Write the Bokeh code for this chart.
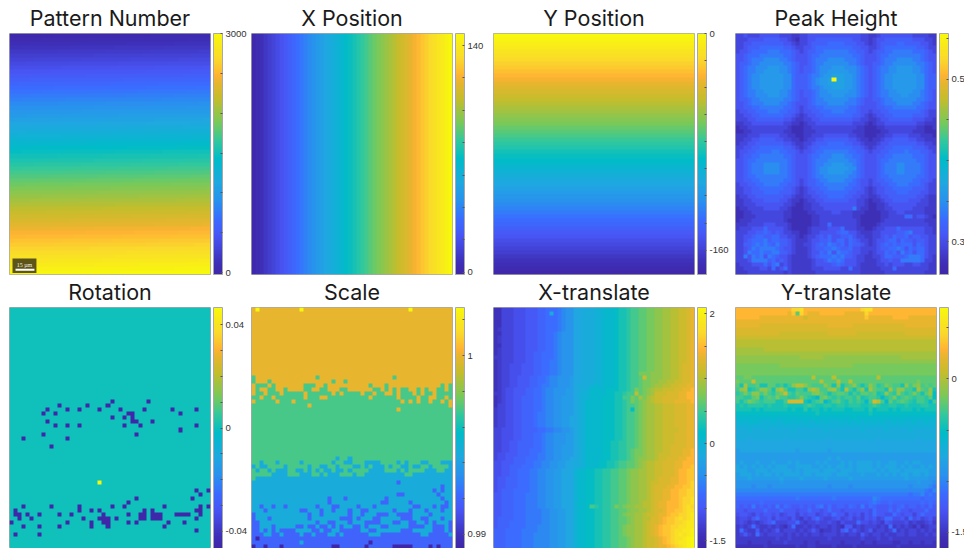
import numpy as np
from bokeh.embed import file_html
from bokeh.resources import INLINE
from bokeh.layouts import column, row
from bokeh.models import ColorBar, FixedTicker, LinearColorMapper, Range1d
from bokeh.plotting import figure
from bokeh.core.properties import value

titles = ["Pattern Number", "X Position", "Y Position", "Peak Height",
          "Rotation", "Scale", "X-translate", "Y-translate"]

pattern_row_start = [0, 50, 100, 150, 200, 250, 300, 350, 400, 450, 500, 550, 600, 650, 700, 750, 800, 850, 900, 950,
                     1000, 1050, 1100, 1150, 1200, 1250, 1300, 1350, 1400, 1450, 1500, 1550, 1600, 1650, 1700, 1750,
                     1800, 1850, 1900, 1950, 2000, 2050, 2100, 2150, 2200, 2250, 2300, 2350, 2400, 2450, 2500, 2550,
                     2600, 2650, 2700, 2750, 2800, 2850, 2900, 2950]
pattern_col_step = [0, 1, 2, 3, 4, 5, 6, 7, 8, 9, 10, 11, 12, 13, 14, 15, 16, 17, 18, 19, 20, 21, 22, 23, 24, 25, 26,
                    27, 28, 29, 30, 31, 32, 33, 34, 35, 36, 37, 38, 39, 40, 41, 42, 43, 44, 45, 46, 47, 48, 49]
x_position = [0, 3, 6, 9, 12, 15, 18, 21, 24, 27, 30, 33, 36, 39, 42, 45, 48, 51, 54, 57, 60, 63, 66, 69, 72, 75, 78,
              81, 84, 87, 90, 93, 96, 99, 102, 105, 108, 111, 114, 117, 120, 123, 126, 129, 132, 135, 138, 141, 144, 147]
y_position = [0, -3, -6, -9, -12, -15, -18, -21, -24, -27, -30, -33, -36, -39, -42, -45, -48, -51, -54, -57, -60, -63,
              -66, -69, -72, -75, -78, -81, -84, -87, -90, -93, -96, -99, -102, -105, -108, -111, -114, -117, -120,
              -123, -126, -129, -132, -135, -138, -141, -144, -147, -150, -153, -156, -159, -162, -165, -168, -171,
              -174, -177]

# digits: colour-bar fraction 0.05 + d*0.035, Y = top of the bar
peak_rows = [
"22322233333222112 2333333333333322 11233333333222211",
"22233334444332102 2334444444443322 12334444444333221",
"22334444444433212 2344445555444332 12344445544443321",
"22344455555544322 3345555555554433 22345555555544322",
"23345555666555432 3445566666655443 23445566666555432",
"33455566666655433 3455666666665543 33455666666665433",
"33456667777665433 3456667777666543 33456667777665433",
"34456677777766543 3456677777766543 34456677777766543",
"34566777888776543 4456777888777654 34566778888776543",
"34566778888776543 4456778888877654 34566778888776543",
"34567788888877544 4566788999887654 34567788888877544",
"34567788888877544 4567889Y99887654 34567788888877544",
"34567788888877544 4567889999887654 34567788888877544",
"34567788888877544 4566788999887654 34567788888877544",
"34566778888776543 4456778888877654 34566778888776543",
"34566777888776543 4456777888777654 34566777887776543",
"34456677777766543 3456677777766543 34456677777766543",
"33456667777665433 3456667777666543 33456667777665433",
"33445566666655432 3445566666655433 33445566666655433",
"23344555666554432 3344555666555433 23344555555554322",
"22334455555544321 2334455555554432 12334455555444322",
"22233444444433211 2233444444443322 11233444444333221",
"11223333333322110 1223333333332221 01223333333322111",
"01122222222221000 1122222222222110 00112222222211001",
"00112222222211000 1112222222221110 00011222222111000",
"11122233333221100 1122233333322110 00112233332221110",
"11223344443322110 1223344444433211 01123344443322111",
"12233444444433211 2234445555443321 11233444444433221",
"22334455555544321 2344555555554432 12334455555444322",
"23344555566554432 3345566666655443 23344555565554432",
"23445566666655433 3455666777665543 33445566666555433",
"33455666666665433 3456667777766543 33455666666655433",
"33456667777665433 3456677888776543 33456667766665433",
"33456667777665433 3456778888877543 33456667766665433",
"33456667777665433 3456778888776543 33456667766665433",
"33455666666665433 3456677777766543 33455666666655433",
"33445566666655432 3445667777665433 23445566666554432",
"23344556666554432 3445566666655433 23344556665554322",
"22334455555544321 2344556666554432 12334455555444322",
"22334445555444321 2334455555544332 12334445554443322",
"12233444444433211 2233445555443322 11233444444433211",
"11223334444332110 1223344444433221 01123344443332211",
"11222333333322100 1122333333333221 00112333333322211",
"01122223333221000 1122233333336211 00112233333222111",
"00112222222211000 0112222332221110 00011223322222111",
"00111222222211000 0011222222221100 00011222255233210",
"01112222222210000 0011222222222100 00012222222222111",
"11122223332221000 0011225222222100 00122222222222211",
"12223335333321000 0122223335222110 01223335333333221",
"22233445434322110 0122333345533211 12233334456333221",
"22334554455332210 1223435334453221 12234354453443322",
"22345556455443211 1233445355354322 12334553544344322",
"22445656546443211 2234546545354432 12345454555354322",
"22346566665433211 1234455654453322 22344556535455322",
"22365565566443211 1233546365543322 12335453645355322",
"22636563654332111 1234555656443221 12235544456665321",
"22236666453432111 1123346565333221 11233433666665221",
"12223335356232111 1123333454333211 11223233322332211",
"11222233252352111 1122233332252211 11122252222222211",
"11122222222212111 1112222222222211 11112222222222111",
]

rotation_low_cells = {
    23: [25, 34], 24: [12, 19, 24], 25: [9, 14, 17, 22, 27, 33, 40, 46], 26: [8, 11, 29, 30, 42],
    27: [25, 28, 30], 28: [9, 30, 31, 35], 29: [11, 14, 17, 28, 32, 46], 30: [42], 31: [8, 31], 32: [3, 14],
    34: [10], 45: [46, 49], 46: [47], 47: [31, 45], 48: [29], 49: [3, 10, 17, 25, 28, 38, 47, 49],
    50: [1, 17, 20, 22, 33, 35, 46, 47], 51: [1, 2, 4, 7, 12, 15, 23, 29, 32, 33, 35, 36, 37, 41, 42, 43, 44, 47],
    52: [2, 5, 18, 22, 23, 24, 26, 32, 33, 35, 36, 37, 46], 53: [0, 14, 20, 23, 24, 29, 31, 39, 43],
    54: [3, 7, 12, 20, 24, 38], 55: [46], 56: [1, 7],
}
rotation_high_cells = {43: [22]}

# digits: 0 = lowest level ... 5 = highest level
scale_levels = [0.9892, 0.9919, 0.9946, 0.9970, 1.0, 1.0027]
scale_rows = [
"45444444444454444444444444444444444444454444444444",
*["44444444444444444444444444444444444444444444444444"] * 16,
"34444444444444443444444444444444444344444444444444",
"34443444444444444444344344444444444444444444444444",
"43334344444443334434444444444344434444444444444343",
"43443344344443344334443344444433434343344343443343",
"43343334333334333333434333343343344343334343343333",
"33433433333334333443333333333433333343333433443343",
"43333343334333333333333333333333333334343433433434",
"33333333333333433333333333333333333333333333333334",
"33333333333333333333333333333333333343333333333333",
*["33333333333333333333333333333333333333333333333333"] * 11,
"33333333333333333333323323333333333333333333333333",
"33233323333323333333233223332222333323233322333222",
"23223333233333233223323332232322232332232233233332",
"32332322233223232322322323333222233323233332223322",
"33333222233322233232223332332222222222332222222222",
"32222222222222222222222222222222222222222222222222",
"22222222222222222222222222222222222212222222222222",
"22222222222222222222222222222222222222222222222122",
"22222222222222222222222222222222222222222222212122",
"22222222222222222222222222222222222211222222221222",
"22222222222222222221222122222222212222222222222122",
"22222222222222222221222222222222112222212222222212",
"22122122122222221222112222122212222222221122212112",
"22212222222211222122122212211222222122212221222122",
"12222222222222122122222212212221112211112222122222",
"12221222222222122222221112122211222221112211222122",
"11222222222222221221122212221111222112211221212221",
"11222122222112112112121221121222112222211112211121",
"11212121111222211211221111122112222221112222211121",
"11122112111121121112212111111222111111111122111112",
"10111111111111111111111111111111111111111111111111",
"11111111111121111111111111111011111111111111111111",
"01101110111111111111001111110111111000001111010111",
]

# characters 0-9a-z: colour-bar fraction = index / 35
xtrans_rows = [
"2244455566 6778889abb ddeeeffggg hiijkkllmm nnooppqqrs",
"2244455566 6778e89abb ddeeeffggg hiijkkllmm nnooppqqrs",
"2244455566 6778889abb ddeeeffggg hiijkkllmm nnooppqqrs",
"2244455566 6778889abb ddeeeffggg hiijkkllmm nnooppqqrs",
"2244455566 6778889abb ddeeeffggg hiijkkllmm nnooppqqrs",
"2344455566 6778889abb ddeeeffggg hiijkkllmm nnooppqqrs",
"2244455566 677889abbb ddeeeffggg hiijkkllmm nnooppqqrs",
"2344455566 677889abbb ddeeeffggg hiijkkllmm nnooppqqrs",
"2344455566 677889abbb ddeeeffggg hiijkkllmm nnooppqqrs",
"2244455566 677889abbb ddeeeffggg hiijkkllmm nnooppqqrs",
"2344455566 677889abbb ddeeeffggg hiijkkllmm nnooppqqrs",
"2344455566 778889abbb ddeeeffggg hiijkkllmm nnooppqqrs",
"3344455566 778889abbb ddeeeffggg hiijkkllmm nnooppqqrs",
"2344455566 778899abbb ddeeeffggg hiijkkllmm nnooppqqrs",
"2344555666 778899abbb ddeeeffggg hiijkkllmm nnooppqrrs",
"2344555666 778899abbb ddeeeffggg hiijkkllmm nnooppqrrs",
"2344555666 778899abbb ddeeeffggg hiijkkmmmn nnooppqrrs",
"2344556667 7889aabbbc ddeeeffggg hiijkklqmn nnooppqrrs",
"2344556667 7889aabbbc ddeeeffggg hiijkklmmn nooppqqrrs",
"2344556667 7899aabbbc deeefgfggg hiijkklmmn ooppqqrrss",
"2345566677 889aabbbcc deefgggghh hiijkmlmno ppqqqrrsst",
"3345566677 889aabbbcc deffgggghh iijkkplmno qqqrrrsstt",
"2345566777 889aabbccc deffggghhh iikkmlomop qqrrrrsstt",
"2345566777 889aabbccc defgggghhh iijkmlmnop qqrrrsssst",
"2445566777 889aabbccc defgggghhh iijkklmnoo ppqqqrrrss",
"3445566777 889aabbccc defgggghhh iijkhlmnoo ppqqqrrrss",
"3445566777 899aabbccc defgggghhh iijkklmnoo ppqqqrrrss",
"3445566777 899aabbccd defgggghhh iijkklmnoo ppqqqrrrss",
"3445566777 899aabbccd defgggghhh iijkklmnoo ppqqqrrrss",
"3445566777 899aabbccd defgggghhh iijkklmnoo ppqqqrrrss",
"4455566777 78899aabbc defgggghhh iijkklmnoo ppqqqqrrss",
"4455566777 889aabbbcc defgggghhh iijkklmnoo ppqqqrrrss",
"4455566777 889aabbbcc defgggghhh iijkklmnoo ppqqqrrrss",
"4455667777 889aabbbcc defgggghhi ijjkklmnoo ppqqqrrrss",
"4455667777 889aabbccc defgggghhi ijjkklmnoo ppqqrrrrss",
"4455667778 889aabbccc defgggghhi ijjklmmnoo ppqqrrrsst",
"4556667778 899aabbccc defgggghhi ijjklmmnoo pqqqrrrsst",
"4556677788 899aabbccd defgggghhi ijjklmnnoo pqqrrrsstt",
"5566677788 99aabbccdd eefggghhii jkkllmnopp qqrrrssttt",
"5566777888 99aabbccdd eefggghhii jkkllmnopp qqrrrssttu",
"5566778889 9aabbccddd fgghhiijjk kllmnnoopp qqrrrsttuu",
"5566778889 9aabbccddd fgghhiijjk kllmnnoopp qqrrrsttuu",
"5667778889 9aabbccddd fgghhiijjk kllmnnoopp qrrrssttuu",
"5667778889 9aabbccddd fgghhiijjk kllmnnoopq qrrrssttuv",
"5667778889 9aabbccddd fgghhiijjk kllmnnoopq rrrssttuuv",
"5677788889 9aabbccddd fgghhiijjk kllmnnoopq rrssttuuvv",
"6677788899 9aabbccddd fgghhiijjk kllmnnoopq rrssttuuvv",
"6677788899 9aabbccddd fgghhiijjk kllmnnoopq rrssttuvvw",
"6677788899 9aabbccddd fgghhiijjk kllmnnoppq rsstttuvvw",
"6677788899 9aabbccddd fgghkjijjk mlmnnooppq rsstttuvwv",
"6677788899 99aabbccdd fgghhiijjk kllmnnoopq rrsttuuvww",
"6677788899 99aabbccdd fgghhiijjk klmnnoopqq rsstuuvvwx",
"6777788899 99aabbccdd fgghhiijjk kllmnooppr rstuuvwvwx",
"6777888899 99aabbccdd fgghhiijjk kllmnoopqr rstuuvvwxx",
"6777888899 9aaabbccdd fgghhiijjk klmnnoopqr stuuvvwwxx",
"7778888999 9aaabbccdd fgghhiijjk klmnnoopqr stuuvwwxxy",
"7778888999 aaaabbccdd fgghhiijjk klmnnoopqr stuuvwxwxy",
"7778888999 aaaabbccdd fgghhiijjk kllmnoopqq rstuvwwxyz",
"7778888999 aaaabbccdd fgghhiijjk kllmnoopqq rstuvwxxyz",
"7778888999 aaaabbccdd fgghhiijjk kllmnoopqq rsstuvwxyz",
]

ytrans_rows = [
"ttttttttttttttvvwttttttttttttttvwwtttttttttttttttt",
"tttttttttttttsulvtsssttttttsssssvttttttttttttttttt",
"ttttttsssssssssssqssssssssssssssussssssttttsssssss",
"ssssssssssssssssssssssssssssssssssssssssssssssssss",
"ssssssrrrrrrrrrrrrrrrrrssssssrrrrrrrrrrrrrssssssss",
"rrrrrrrrrrrrrrrrrrrrrrrrrrrrrrrrrrrrrrrrrrrrrrrrrr",
"rrrrrrrrrrrqqqqqqqqqqqqrrrrrrrqqqqqqqqqqqqrrrrrrrr",
"qqqqqqqqqqqqqqqqqqqqqqqqqqqqqqqqqqqqqqqqqqqqqqqqqq",
"pppppppppppppppppppppppppppppppppppppppppppppppppp",
"pppppppppppppppppppppppppppppppppppppppppppppppppp",
"oooooooppppppppppppppppppppppppppppppppppppppppppp",
"oooooooooooooooooooooooooooooooooooooooooooooooooo",
"nnnnnnnnnnnnnnnnoooooonnnnnnnnnnnnnnnnnnnooooooooo",
"nnnnnnnnnnnnnnnnnnnnnnnnnnnnnnnnnnnnnnnnnnnnnnnnnn",
"mmmmmmmmmmmnnnnnnnnnnnnnnnnnnmmmmmmmmmmmmmmmmmmmmm",
"mmmmmmmmmmmmmmmmmmmmmmmmmmmmmmmmmmmmmmmmmmmmmmmmmm",
"mmmmmmmmmmmmmmmmmmmmmmmmmmmmmmmmmmmmmmmmmmmmmmmmmm",
"llmmlllllllllllllllpllllpllllllllllplllllllllllllll",
"mlllqllllllllllllllllplllpllpllllllllllllllllmllll",
"liokkliilljkiknppnlkkknliniklnkiknljkmlkkinkmnklkl",
"knoijknnlinpliikkinpnkknokipkilniolkkioknnkkiolkni",
"jkmknnkmkjlmqkjlkkkmnlkikllkikjllklijnkjnkjkmkilnh",
"kkjjlmiklkmkkjjkmkjiglmkjkjkkjlijkkjgjkmjklkjkkjlh",
"kikmlkjkkkiikrrrrigjklgikljikjkjgkrpkgljklkjikkjgk",
"ijijjjjijiiijiiiijkjiijjijjijjjiijkjiijjiijiiijjii",
"iiiihihiiiiiihihhjhiihihiiihhiiihjhiiihihiiihihiii",
"hhhhhhhhhhhhhhhhhhhhihhhhhhhhhhhhihhhhhhhhhhhhhhhh",
"ggggggggggggggggggghggggggggghgggggggggggggggggggg",
"fgfgggfffgffggfgfgffgfgfffgfgfgfgfgfgffgfgffgffgff",
"ffffffffffffffffffffffffffffffffffffffffffffffffff",
"eeefeeefeeeeeefeeeeeeefeeeeeeeefeeeeefeeeeefeeeeee",
"eeeeeeeeeeeeeeeeeeeeeeeeeeeeeeeeeeeeeeeeeeeeeeeeee",
"eeedeeeeeeeedeeeeeeeeeedeeeeeeeeeeedeeeeeeeeedeeee",
"dddddddddddddddddddddddddddddddddddddddddddddddddd",
"dddddddddddddddddddddddddddddddddddddddddddddddddd",
"cddddddddddddddcdddddddcdddddddddddddddddddddddddd",
"cccccccccccccccccccccccccccccccccccccccccccccccccc",
"cccccccccccccccccccccccdcdcccccccccccccccccccccccc",
"cdcccdcccdcccdcdccccdcdcccdcdcddddcdccddccdcddcccc",
"dcdcdcdcdcdddccddddccdcdcddcdcddddcdcdddcdcdccdcdc",
"dddccdddcdddddcdcddddcdddcdddcdddddcdcdddcddddddcc",
"cdddcdcddcdcddddcddcddddcdddcccdcccdcdcdcddcddcdcc",
"cccdcccccccdccccdcccccdcccccdcccccccccccccdcccccbb",
"bbbbbbbbbbbcbbbbbbbbbbbbbbbbbbbbbbbbbbbbbbbbbcbbba",
"bbbbabbbabbbbbbbbbbbbbbabbbbabbbbbbbbbbbbbbabbbba9",
"aaaaaaaaaaaaaaaaaaaaaaaaaaaaaaaaaaaaaaaaaaaaaaa98a",
"9999999999999999999999999999999999999999999899a898",
"8888888888888889888888889888888888a98888888888788878",
"7777778777777777777777777777777778987787777777878777",
"7676967676968766767689686776876968766676786776768677",
"6656666866686665668665686656666665866686866566686656",
"5665465665645664656645658664656465866558656646866665",
"4554685564655464354685445645645465645885564856456445",
"4543434568444558434454454354448554543654445343345344",
"3434843343432483343434434326634344434383434324234443",
"3843363434634443434642334368464346344348343443434343",
"3464384344443434343443444343443643443433443443343433",
"3333333333433433333333343333333433343343333333333333",
"3332333323334333323323333323333233233332233233233233",
"2222222322222223223322223222232222222222322222222232",
]
assert len(peak_rows) == len(scale_rows) == len(xtrans_rows) == len(ytrans_rows) == 60

cb_low = [-25, -1.5, -178, 0.26, -0.0466, 0.9892, -1.62, -1.66]
cb_high = [3000, 147.5, 0, 0.556, 0.0466, 1.0027, 2.1, 0.7]
cb_ticks = [
    [0, 500, 1000, 1500, 2000, 2500, 3000],
    [0, 20, 40, 60, 80, 100, 120, 140],
    [-160, -140, -120, -100, -80, -60, -40, -20, 0],
    [0.3, 0.35, 0.4, 0.45, 0.5, 0.55],
    [-0.04, -0.03, -0.02, -0.01, 0, 0.01, 0.02, 0.03, 0.04],
    [0.99, 0.992, 0.994, 0.996, 0.998, 1, 1.002],
    [-1.5, -1, -0.5, 0, 0.5, 1, 1.5, 2],
    [-1.5, -1, -0.5, 0, 0.5],
]
cb_labels = [
    {0: "0", 3000: "3000"},
    {0: "0", 140: "140"},
    {-160: "-160", 0: "0"},
    {0.3: "0.3", 0.5: "0.5"},
    {-0.04: "-0.04", 0: "0", 0.04: "0.04"},
    {0.99: "0.99", 1: "1"},
    {-1.5: "-1.5", 0: "0", 2: "2"},
    {-1.5: "-1.5", 0: "0"},
]

scale_bar_box = [0.75, 6.7, 56.0, 59.6]
scale_bar_line = [1.5, 6.2, 58.8]
scale_bar_label = "15 µm"

stop_pos = [0, 0.05, 0.16, 0.23, 0.295, 0.38, 0.48, 0.555, 0.63, 0.73, 0.8, 0.825, 0.895, 1]
stop_hex = ["3f27a9", "3e30b8", "4856f5", "3a6cff", "2a8ef0", "1fa8e0", "00bcc8", "33c89c", "78c95a", "c4bd2c",
            "e8b52f", "ffb233", "fad92c", "f8f80d"]
stops = np.array([[int(h[j:j + 2], 16) for j in (0, 2, 4)] for h in stop_hex], dtype=float)
palette = ["#%02x%02x%02x" % tuple(int(round(np.interp(i / 255, stop_pos, stops[:, c]))) for c in range(3))
           for i in range(256)]

CODE = "0123456789abcdefghijklmnopqrstuvwxyz"


def clean(r):
    r = r.replace(" ", "")
    return (r + r[-1] * 50)[:50]


def to_value(frac, i):
    return cb_low[i] + frac * (cb_high[i] - cb_low[i])


def peak_grid():
    return np.array([[to_value(1.0 if ch == "Y" else 0.05 + int(ch) * 0.035, 3) for ch in clean(r)] for r in peak_rows])


def rotation_grid():
    g = np.zeros((60, 50))
    for r, cols in rotation_low_cells.items():
        g[r, cols] = cb_low[4]
    for r, cols in rotation_high_cells.items():
        g[r, cols] = cb_high[4]
    return g


def scale_grid():
    return np.array([[scale_levels[int(ch)] for ch in clean(r)] for r in scale_rows])


def code_grid(rows, i):
    return np.array([[to_value(CODE.index(ch) / 35, i) for ch in clean(r)] for r in rows])


grids = [
    np.add.outer(np.array(pattern_row_start), np.array(pattern_col_step)),
    np.tile(np.array(x_position), (60, 1)),
    np.tile(np.array(y_position)[:, None], (1, 50)),
    peak_grid(), rotation_grid(), scale_grid(),
    code_grid(xtrans_rows, 6), code_grid(ytrans_rows, 7),
]

col_left = [9, 3, 3, 3]
col_right = [38, 38, 38, 28]
figs = []
for i, g in enumerate(grids):
    c = i % 4
    top_row = i < 4
    p = figure(width=col_left[c] + 201 + col_right[c], height=278 if top_row else 274,
               x_range=Range1d(0, 50), y_range=Range1d(0, 60),
               toolbar_location=None, output_backend="svg",
               min_border_left=col_left[c], min_border_right=col_right[c],
               min_border_top=33, min_border_bottom=4 if top_row else 0,
               border_fill_color=None, margin=(0, 0, 0, 0) if top_row else (-4, 0, 0, 0))
    p.title.text = titles[i]
    p.title.align = "center"
    p.title.text_font = "Inter"
    p.title.text_font_size = "21.5px"
    p.title.text_font_style = "normal"
    p.title.text_color = "#1a1a1a"
    p.title.text_line_height = 1.0
    p.title.standoff = 5
    p.axis.visible = False
    p.grid.visible = False
    p.outline_line_color = "#a8a8a8"
    p.outline_line_width = 1
    mapper = LinearColorMapper(palette=palette, low=cb_low[i], high=cb_high[i])
    p.image(image=[np.array(g, dtype=float)[::-1]], x=0, y=0, dw=50, dh=60, color_mapper=mapper)
    cb = ColorBar(color_mapper=mapper, width=9, height=241, padding=0, margin=0, location=(204, 0),
                  ticker=FixedTicker(ticks=cb_ticks[i]),
                  major_label_overrides={t: cb_labels[i].get(t, "") for t in cb_ticks[i]},
                  major_label_text_font="Liberation Sans", major_label_text_font_size="9.5px",
                  major_label_text_color="#333333", label_standoff=3,
                  major_tick_in=2, major_tick_out=0, major_tick_line_color="#555555",
                  minor_tick_line_color=None, bar_line_color="#a8a8a8", border_line_color=None,
                  background_fill_color=None)
    p.add_layout(cb, "center")
    if i == 0:
        p.quad(left=scale_bar_box[0], right=scale_bar_box[1], bottom=60 - scale_bar_box[3], top=60 - scale_bar_box[2],
               fill_color="#5c5418", line_color=None)
        p.segment(x0=scale_bar_line[0], x1=scale_bar_line[1], y0=60 - scale_bar_line[2], y1=60 - scale_bar_line[2],
                  line_color="white", line_width=2)
        p.text(x=[(scale_bar_box[0] + scale_bar_box[1]) / 2], y=[60 - scale_bar_box[2] - 1.7], text=[scale_bar_label],
               text_font=value("Liberation Serif"), text_font_size="6px", text_color="#f0f0e0",
               text_align="center", text_baseline="middle")
    figs.append(p)

layout = column(row(*figs[:4], spacing=0), row(*figs[4:], spacing=0), spacing=0)
open("out.html", "w").write(file_html(layout, INLINE))
